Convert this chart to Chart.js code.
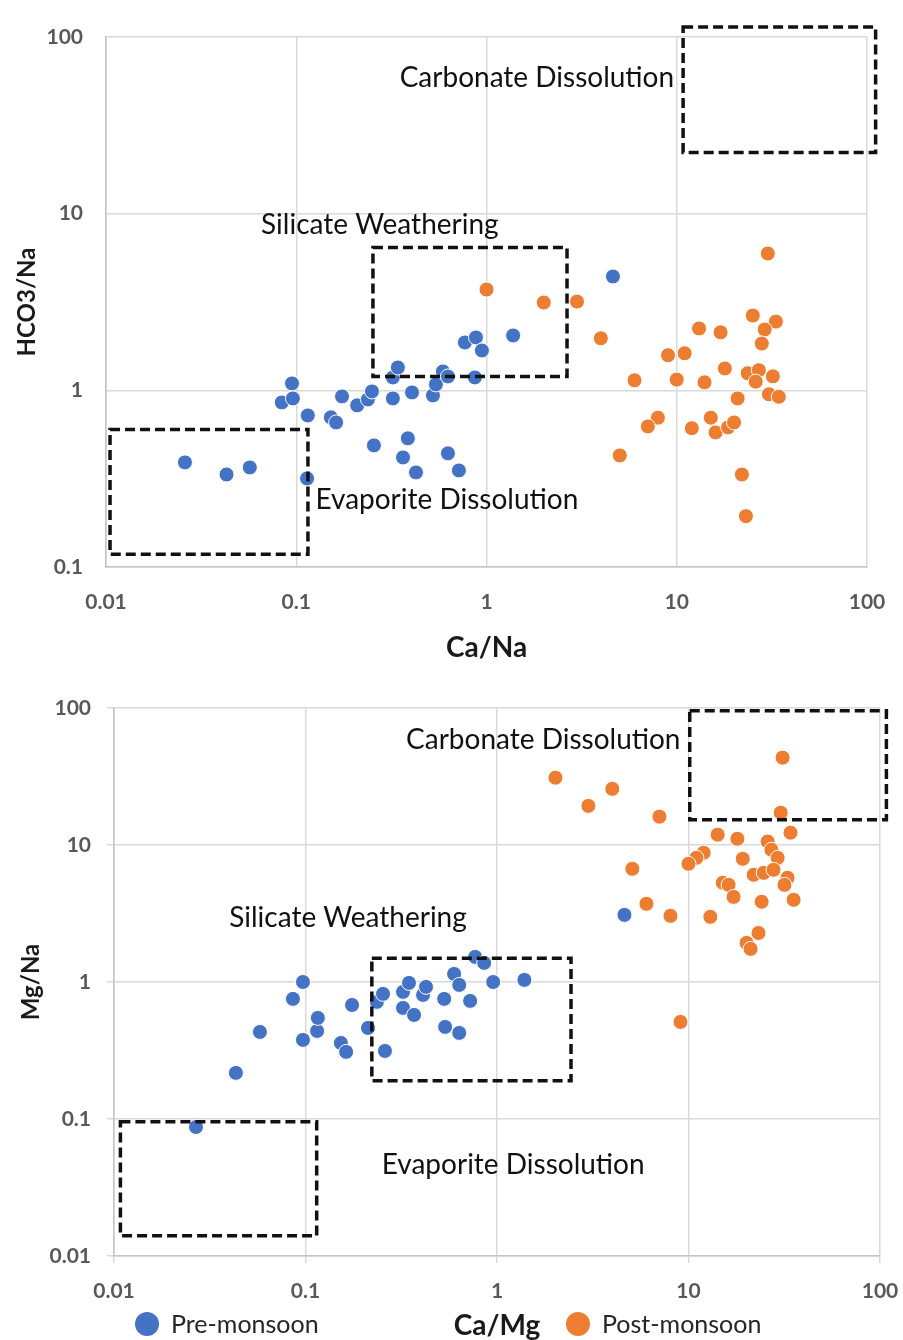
<!DOCTYPE html>
<html>
<head>
<meta charset="utf-8">
<script src="https://cdn.jsdelivr.net/npm/chart.js@4.4.1/dist/chart.umd.min.js"></script>
<style>
  body { margin: 0; background: #fff; }
  .panel { position: relative; width: 903px; height: 670px; }
</style>
</head>
<body>
<div class="panel"><canvas id="caNaChart"></canvas></div>
<div class="panel"><canvas id="caMgChart"></canvas></div>
<script>
// ---- data ----
const seriesNames = ['Pre-monsoon', 'Post-monsoon'];
const regionNames = ['Carbonate Dissolution', 'Silicate Weathering', 'Evaporite Dissolution'];

const logTicks = [0.01, 0.1, 1, 10, 100];
const logTickLabels = ['0.01', '0.1', '1', '10', '100'];
const hco3Ticks = [0.1, 1, 10, 100];
const hco3TickLabels = ['0.1', '1', '10', '100'];

// Ca/Na vs HCO3/Na
const preCaNa = [0.026, 0.043, 0.057, 0.114, 0.095, 0.084, 0.096, 0.115, 0.152, 0.162, 0.174, 0.209, 0.238, 0.25, 0.256, 0.322, 0.322, 0.342, 0.386, 0.364, 0.426, 0.406, 0.523, 0.542, 0.59, 0.627, 0.627, 0.716, 0.77, 0.88, 0.946, 0.869, 1.38, 4.62];
const preHco3Na = [0.391, 0.334, 0.366, 0.317, 1.094, 0.854, 0.9, 0.721, 0.703, 0.658, 0.924, 0.822, 0.888, 0.986, 0.488, 0.9, 1.183, 1.347, 0.535, 0.417, 0.343, 0.973, 0.936, 1.08, 1.279, 1.198, 0.44, 0.352, 1.866, 1.992, 1.681, 1.183, 2.044, 4.41];
const postCaNa = [1.0, 2.0, 2.99, 3.99, 30.1, 25.1, 33.2, 29.0, 28.0, 13.1, 17.0, 9.0, 11.0, 6.0, 10.0, 14.0, 17.9, 23.6, 27.0, 26.0, 32.0, 20.9, 30.5, 34.4, 7.96, 7.05, 12.0, 15.1, 16.0, 18.6, 20.0, 5.02, 22.0, 23.1];
const postHco3Na = [3.72, 3.14, 3.18, 1.97, 5.95, 2.65, 2.45, 2.21, 1.84, 2.24, 2.13, 1.58, 1.62, 1.14, 1.15, 1.11, 1.33, 1.25, 1.3, 1.12, 1.2, 0.9, 0.95, 0.92, 0.7, 0.625, 0.61, 0.7, 0.578, 0.617, 0.658, 0.428, 0.334, 0.194];

// Ca/Mg vs Mg/Na
const preCaMg = [0.0268, 0.0433, 0.0578, 0.097, 0.086, 0.097, 0.115, 0.116, 0.153, 0.163, 0.175, 0.212, 0.236, 0.254, 0.26, 0.323, 0.347, 0.323, 0.369, 0.411, 0.426, 0.53, 0.536, 0.597, 0.635, 0.635, 0.724, 0.769, 0.857, 0.955, 1.39, 4.63];
const preMgNa = [0.0874, 0.217, 0.432, 0.378, 0.753, 1.0, 0.439, 0.547, 0.359, 0.309, 0.68, 0.462, 0.716, 0.819, 0.314, 0.847, 0.985, 0.647, 0.575, 0.805, 0.921, 0.753, 0.47, 1.146, 0.952, 0.425, 0.728, 1.525, 1.379, 1.0, 1.036, 3.09];
const postCaMg = [31.0, 2.02, 4.0, 3.0, 7.05, 30.3, 34.1, 14.2, 18.0, 25.9, 27.1, 29.2, 19.2, 12.0, 11.0, 10.0, 5.09, 21.9, 24.7, 27.8, 32.9, 31.7, 15.1, 16.2, 17.2, 24.1, 35.4, 6.03, 8.05, 13.0, 23.2, 20.1, 21.1, 9.08];
const postMgNa = [43.4, 31.0, 25.7, 19.3, 16.1, 17.2, 12.3, 11.9, 11.1, 10.6, 9.23, 8.06, 7.93, 8.77, 8.06, 7.29, 6.7, 6.06, 6.26, 6.59, 5.76, 5.12, 5.3, 5.12, 4.18, 3.85, 3.98, 3.72, 3.04, 2.99, 2.28, 1.93, 1.745, 0.511];

// region boxes [xmin, xmax, ymin, ymax] in data units, and label anchors [x, y]
const caNaBoxes = [[10.8, 111, 22.2, 114], [0.253, 2.65, 1.198, 6.43], [0.0105, 0.1152, 0.118, 0.601]];
const caNaLabelAt = [[1.84, 58.9], [0.275, 8.68], [0.619, 0.2384]];
const caMgBoxes = [[10.15, 108, 15.3, 95.5], [0.222, 2.435, 0.1905, 1.49], [0.0108, 0.1144, 0.01405, 0.0956]];
const caMgLabelAt = [[1.744, 58.7], [0.1667, 2.94], [1.215, 0.0461]];

// ---- drawing ----
Chart.defaults.font.family = 'Lato';
const colors = ['#4472C4', '#ED7D31'];

function points(xs, ys) {
  return xs.map((x, i) => ({ x: x, y: ys[i] }));
}

function logAxis(values, labels, size, withTicks, extra) {
  return Object.assign({
    type: 'logarithmic',
    min: values[0],
    max: values[values.length - 1],
    afterBuildTicks: s => { s.ticks = values.map(v => ({ value: v })); },
    ticks: {
      callback: (v, i) => labels[i],
      color: '#595959',
      font: { size: 21, weight: 'bold' },
      padding: withTicks ? 16 : 23
    },
    grid: { color: '#d9d9d9', lineWidth: 1.5, drawTicks: withTicks, tickLength: 7 },
    border: { color: '#c4c4c4', width: 1.5 },
    afterFit: s => {
      // fixed plot box: ignore the label overhang padding Chart.js adds
      s.paddingLeft = s.paddingRight = s.paddingTop = s.paddingBottom = 0;
      if (s.isHorizontal()) s.height = size; else s.width = size;
    }
  }, extra);
}

function regionsPlugin(boxes, labelAt, showLegend) {
  return {
    id: 'regions',
    afterDatasetsDraw(chart) {
      const { ctx, scales: { x, y } } = chart;
      ctx.save();
      ctx.strokeStyle = '#111';
      ctx.lineWidth = 3.5;
      ctx.setLineDash([10, 5]);
      boxes.forEach(b => {
        const x0 = x.getPixelForValue(b[0]), x1 = x.getPixelForValue(b[1]);
        const y0 = y.getPixelForValue(b[3]), y1 = y.getPixelForValue(b[2]);
        ctx.strokeRect(x0, y0, x1 - x0, y1 - y0);
      });
      ctx.setLineDash([]);
      ctx.fillStyle = '#111';
      ctx.font = '28px Lato';
      ctx.textAlign = 'center';
      ctx.textBaseline = 'middle';
      labelAt.forEach((p, i) => {
        ctx.fillText(regionNames[i], x.getPixelForValue(p[0]), y.getPixelForValue(p[1]));
      });
      ctx.restore();
    },
    afterDraw(chart) {
      if (!showLegend) return;
      const ctx = chart.ctx;
      const legendX = [147, 578];
      const ly = chart.height - 16;
      ctx.save();
      ctx.font = '25px Lato';
      ctx.textBaseline = 'middle';
      ctx.textAlign = 'left';
      chart.data.datasets.forEach((ds, i) => {
        ctx.fillStyle = ds.backgroundColor;
        ctx.beginPath();
        ctx.arc(legendX[i], ly, 12, 0, Math.PI * 2);
        ctx.fill();
        ctx.fillStyle = '#262626';
        ctx.fillText(ds.label, legendX[i] + 24, ly + 1);
      });
      ctx.restore();
    }
  };
}

function dataset(i, xs, ys) {
  return {
    label: seriesNames[i],
    data: points(xs, ys),
    backgroundColor: colors[i],
    borderColor: '#ffffff',
    borderWidth: 1,
    pointRadius: 7.5,
    pointHoverRadius: 7.5,
    clip: false
  };
}

new Chart(document.getElementById('caNaChart'), {
  type: 'scatter',
  data: { datasets: [dataset(0, preCaNa, preHco3Na), dataset(1, postCaNa, postHco3Na)] },
  options: {
    responsive: true,
    maintainAspectRatio: false,
    animation: false,
    layout: { padding: { top: 37, right: 36, left: 0, bottom: 0 } },
    plugins: { legend: { display: false }, tooltip: { enabled: false } },
    scales: {
      x: logAxis(logTicks, logTickLabels, 103, false, {
        title: { display: true, text: 'Ca/Na', color: '#1a1a1a', font: { size: 28, weight: 'bold' }, padding: { top: 0, bottom: 5 } }
      }),
      y: logAxis(hco3Ticks, hco3TickLabels, 106, false, {
        title: { display: true, text: 'HCO3/Na', color: '#1a1a1a', font: { size: 24, weight: 'bold' }, padding: { top: 13, bottom: 0 } }
      })
    }
  },
  plugins: [regionsPlugin(caNaBoxes, caNaLabelAt, false)]
});

new Chart(document.getElementById('caMgChart'), {
  type: 'scatter',
  data: { datasets: [dataset(0, preCaMg, preMgNa), dataset(1, postCaMg, postMgNa)] },
  options: {
    responsive: true,
    maintainAspectRatio: false,
    animation: false,
    layout: { padding: { top: 38, right: 23, left: 0, bottom: 0 } },
    plugins: { legend: { display: false }, tooltip: { enabled: false } },
    scales: {
      x: logAxis(logTicks, logTickLabels, 84, true, {
        title: { display: true, text: 'Ca/Mg', color: '#1a1a1a', font: { size: 28, weight: 'bold' }, padding: { top: 0, bottom: -3 } }
      }),
      y: logAxis(logTicks, logTickLabels, 114, true, {
        title: { display: true, text: 'Mg/Na', color: '#1a1a1a', font: { size: 24, weight: 'bold' }, padding: { top: 17, bottom: 0 } }
      })
    }
  },
  plugins: [regionsPlugin(caMgBoxes, caMgLabelAt, true)]
});
</script>
</body>
</html>
